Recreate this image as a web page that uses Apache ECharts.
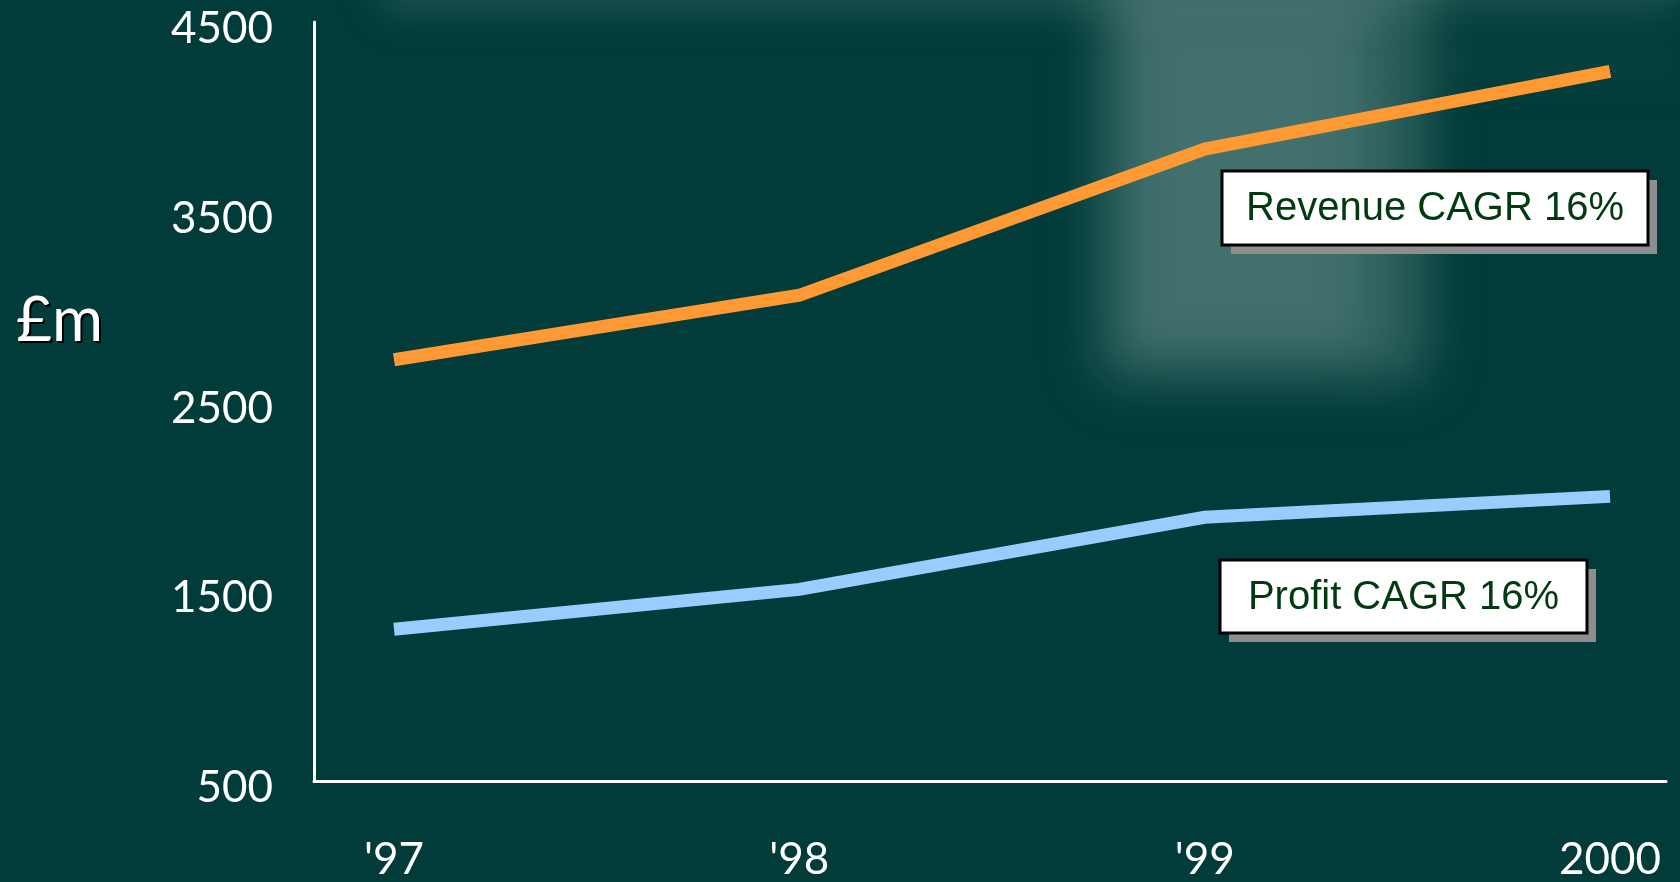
<!DOCTYPE html>
<html>
<head>
<meta charset="utf-8">
<script src="https://cdn.jsdelivr.net/npm/echarts@6/dist/echarts.min.js"></script>
<style>
html,body{margin:0;padding:0;background:#013c3a;}
#chart{width:1680px;height:882px;}
</style>
</head>
<body>
<div id="chart"></div>
<script>
// ---- data ----
const categories = ["'97", "'98", "'99", "2000"];
const revenue = [2720, 3060, 3830, 4240];
const profit = [1300, 1510, 1890, 2000];
const yMin = 500, yMax = 4500, yStep = 1000;
const unitLabel = '£m';
const revenueNote = 'Revenue CAGR 16%';
const profitNote = 'Profit CAGR 16%';

const FONT = 'Lato, "Open Sans", "Liberation Sans", sans-serif';
const BG = '#013c3a';

function blurRect(x, y, w, h, color, blur) {
  const off = 5000;
  return {
    type: 'rect', silent: true, z: -10,
    shape: { x: x - off, y: y, width: w, height: h },
    style: { fill: color, shadowColor: color, shadowBlur: blur, shadowOffsetX: off, shadowOffsetY: 0 }
  };
}

function noteBox(x, y, w, h, text) {
  return [
    { type: 'rect', z: 20, shape: { x: x + 9, y: y + 9, width: w, height: h }, style: { fill: '#8e8e8e' } },
    { type: 'rect', z: 21, shape: { x: x, y: y, width: w, height: h }, style: { fill: '#ffffff', stroke: '#000000', lineWidth: 3 } },
    { type: 'text', z: 22, x: x + w / 2, y: y + h / 2 + 1,
      style: { text: text, fill: '#023a10', font: '40px "Liberation Sans", Arial, sans-serif', align: 'center', verticalAlign: 'middle' } }
  ];
}

const labelStyle = { color: '#ffffff', fontSize: 44, fontWeight: 400, fontFamily: FONT };

const chart = echarts.init(document.getElementById('chart'));
const option = {
  backgroundColor: BG,
  animation: false,
  grid: [
    { left: 314, right: 14, top: 22, bottom: 101 },
    { left: 394, right: 70, top: 22, bottom: 101 },
    { left: 314, right: 14, top: 29, bottom: 94 }
  ],
  xAxis: [
    { type: 'value', gridIndex: 0, min: 0, max: 1, axisLine: { show: true, onZero: false, lineStyle: { color: '#ffffff', width: 3 } },
      axisTick: { show: false }, axisLabel: { show: false }, splitLine: { show: false } },
    { type: 'category', gridIndex: 1, boundaryGap: false, data: categories,
      axisLine: { show: false }, axisTick: { show: false }, splitLine: { show: false },
      axisLabel: Object.assign({ margin: 57 }, labelStyle) },
    { type: 'value', gridIndex: 2, min: 0, max: 1, show: false }
  ],
  yAxis: [
    { type: 'value', gridIndex: 0, min: yMin, max: yMax, interval: yStep,
      axisLine: { show: true, lineStyle: { color: '#ffffff', width: 3 } },
      axisTick: { show: false }, splitLine: { show: false }, axisLabel: { show: false } },
    { type: 'value', gridIndex: 1, min: yMin, max: yMax, interval: yStep, show: false, splitLine: { show: false } },
    { type: 'value', gridIndex: 2, min: yMin, max: yMax, interval: yStep,
      axisLine: { show: false }, axisTick: { show: false }, splitLine: { show: false },
      axisLabel: Object.assign({ margin: 41, formatter: function (v) { return String(v); } }, labelStyle) }
  ],
  series: [
    { name: 'Revenue', type: 'line', xAxisIndex: 1, yAxisIndex: 1, data: revenue, symbol: 'none', z: 5,
      lineStyle: { color: '#ff9933', width: 13, cap: 'butt', join: 'miter' } },
    { name: 'Profit', type: 'line', xAxisIndex: 1, yAxisIndex: 1, data: profit, symbol: 'none', z: 5,
      lineStyle: { color: '#99ccff', width: 13, cap: 'butt', join: 'miter' } }
  ],
  graphic: [
    blurRect(1100, -40, 325, 420, 'rgba(100,140,135,0.7)', 50),
    blurRect(1130, 0, 230, 350, 'rgba(115,150,148,0.5)', 40),
    blurRect(380, -40, 1300, 50, 'rgba(110,145,140,0.55)', 40),
    blurRect(1400, 40, 280, 40, 'rgba(60,100,95,0.4)', 40),
    { type: 'text', z: 10, x: 18, y: 323, style: { text: unitLabel, fill: '#000000', font: '62px ' + FONT, align: 'left', verticalAlign: 'middle' } },
    { type: 'text', z: 11, x: 16, y: 321, style: { text: unitLabel, fill: '#ffffff', font: '62px ' + FONT, align: 'left', verticalAlign: 'middle' } },
    ...noteBox(1222, 171, 426, 74, revenueNote),
    ...noteBox(1220, 560, 367, 73, profitNote)
  ]
};
chart.setOption(option);
</script>
</body>
</html>
